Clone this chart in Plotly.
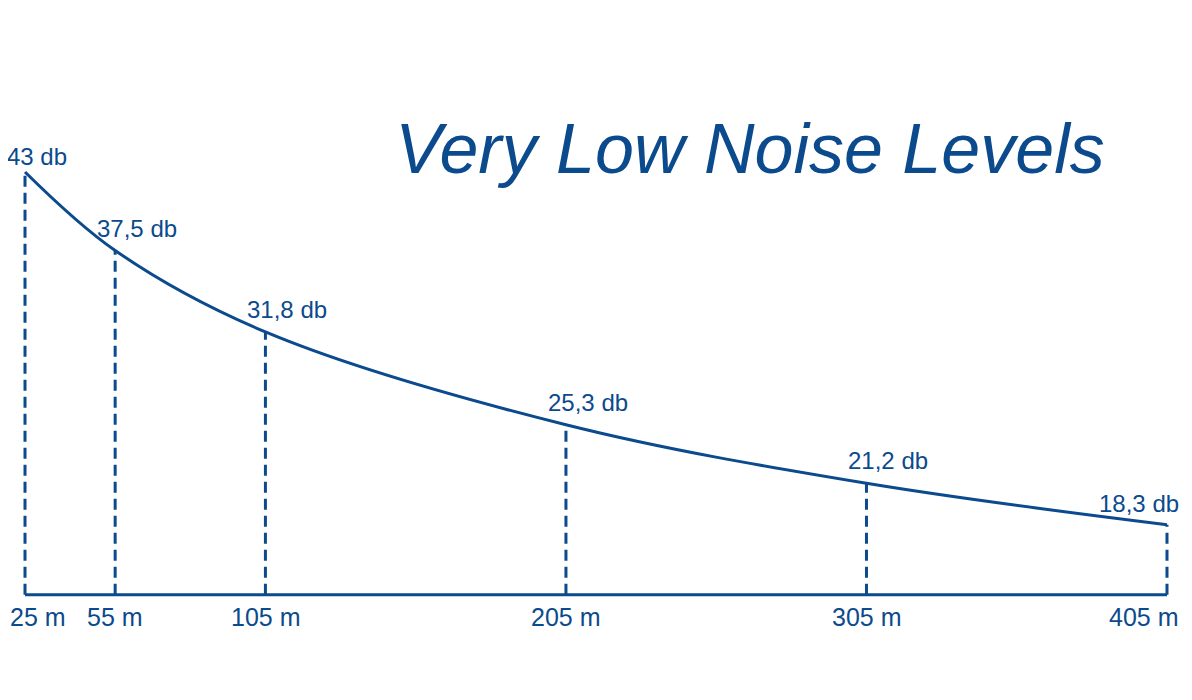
import plotly.graph_objects as go

# distances from the source (m) and measured noise level (db)
distance_m = [25, 55, 105, 205, 305, 405]
noise_db = [43, 37.5, 31.8, 25.3, 21.2, 18.3]
title_text = "Very Low Noise Levels"

BLUE = "#0b4a8c"
FONT = "Liberation Sans, Arial, sans-serif"
FLOOR = 13.4  # db level where the baseline sits


def db_label(v):
    s = f"{v:g}".replace(".", ",")
    return f"{s} db"


fig = go.Figure()

# dashed drop lines from each reading down to the baseline
drop_x, drop_y = [], []
for d, v in zip(distance_m, noise_db):
    drop_x += [d, d, None]
    drop_y += [FLOOR, v, None]
fig.add_trace(go.Scatter(
    x=drop_x, y=drop_y, mode="lines",
    line=dict(color=BLUE, width=3, dash="11px,6px"),
    hoverinfo="skip", showlegend=False,
))

# the decay curve
fig.add_trace(go.Scatter(
    x=distance_m, y=noise_db, mode="lines",
    line=dict(color=BLUE, width=3, shape="spline", smoothing=1),
    hovertemplate="%{x} m<br>%{y} db<extra></extra>",
    showlegend=False,
))

# baseline
fig.add_shape(type="line", xref="x", yref="y",
              x0=distance_m[0], x1=distance_m[-1], y0=FLOOR, y1=FLOOR,
              line=dict(color=BLUE, width=3))

# value labels above the points
n = len(distance_m)
for i, (d, v) in enumerate(zip(distance_m, noise_db)):
    if i == 0:
        anchor, shift, ys = "left", -20, 0
    elif i == n - 1:
        anchor, shift, ys = "right", 14, 6
    else:
        anchor, shift, ys = "center", 22, 7
    fig.add_annotation(x=d, y=v, xref="x", yref="y", text=db_label(v),
                       showarrow=False, xanchor=anchor, yanchor="bottom",
                       xshift=shift, yshift=ys,
                       font=dict(family=FONT, size=24, color=BLUE))

# distance labels under the baseline
for i, d in enumerate(distance_m):
    if i == 0:
        anchor, shift = "left", -17
    elif i == n - 1:
        anchor, shift = "right", 13
    else:
        anchor, shift = "center", 0
    fig.add_annotation(x=d, y=FLOOR, xref="x", yref="y", text=f"{d} m",
                       showarrow=False, xanchor=anchor, yanchor="top",
                       xshift=shift, yshift=-6,
                       font=dict(family=FONT, size=25, color=BLUE))

# page body has an 8px margin, so the figure is sized to fit inside it
fig.update_layout(
    width=1176, height=684,
    paper_bgcolor="white", plot_bgcolor="white",
    margin=dict(l=14, r=14, t=0, b=93),
    title=dict(text=title_text, xref="container", yref="container",
               x=742 / 1176, y=1 - 140 / 684, xanchor="center", yanchor="middle",
               font=dict(family=FONT, size=70, color=BLUE, style="italic")),
    showlegend=False,
)
fig.update_xaxes(range=[24, 406], visible=False)
fig.update_yaxes(range=[13.1, 54.48], visible=False)

fig.write_html("out.html")
